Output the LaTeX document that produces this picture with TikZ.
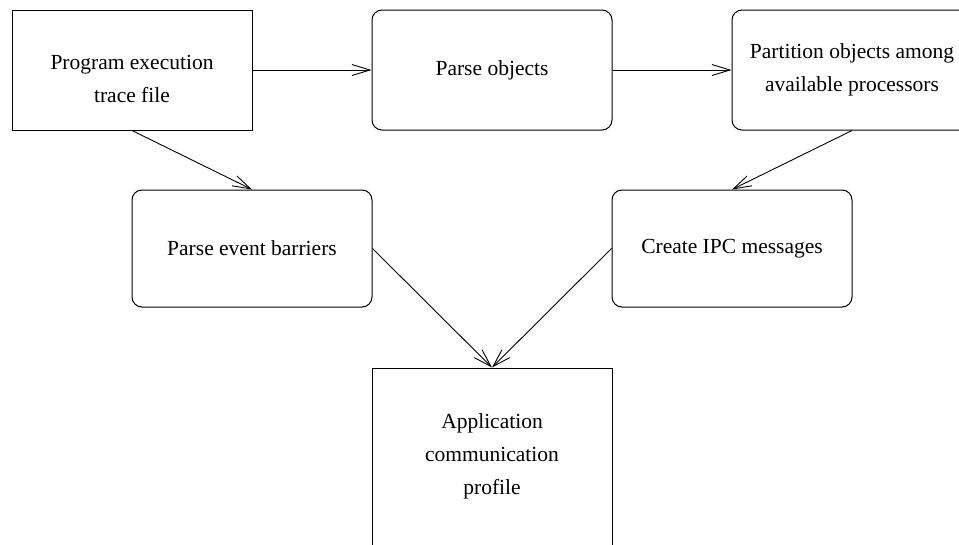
\documentclass[tikz,border=0pt]{standalone}
\usepackage{fontspec}
\setmainfont{Liberation Serif}
\usetikzlibrary{arrows.meta}

\tikzset{
  boxfont/.style={align=center, font=\fontsize{21.5}{33}\selectfont},
  plainbox/.style={draw, line width=1pt, minimum width=240pt, minimum height=120pt,
    inner sep=0pt, boxfont},
  softbox/.style={plainbox, rounded corners=10pt},
  flow/.style={-{Straight Barb[length=18pt,width=11pt]}, line width=0.9pt}
}

\begin{document}
\begin{tikzpicture}[x=1pt, y=-1pt]
\useasboundingbox (0,0) rectangle (959,544);

\node[plainbox, label={[boxfont, yshift=-9pt]center:Program execution\\trace file}]
  (trace) at (132,70) {};
\node[softbox]  (parse) at (492,70) {Parse objects};
\node[softbox]  (part)  at (852,70) {Partition objects among\\available processors};

\node[softbox, minimum height=117pt] (barrier) at (252,248.5) {Parse event barriers};
\node[softbox, minimum height=117pt] (ipc)     at (732,248.5) {Create IPC messages};

\node[plainbox, minimum height=200pt,
  label={[boxfont, yshift=12pt]center:Application\\communication\\profile}]
  (profile) at (492,468) {};

%%%%%%%%%%%%%%%%%%%%%%%%%%%%%%%%%%%%%%%%

\draw[flow] (trace) -- (parse);
\draw[flow] (parse) -- (part);
\draw[flow] (trace.south) -- (barrier.north);
\draw[flow] (part.south) -- (ipc.north);
\draw[flow] (barrier.east) -- (profile.north);
\draw[flow] (ipc.west) -- (profile.north);

\end{tikzpicture}
\end{document}
